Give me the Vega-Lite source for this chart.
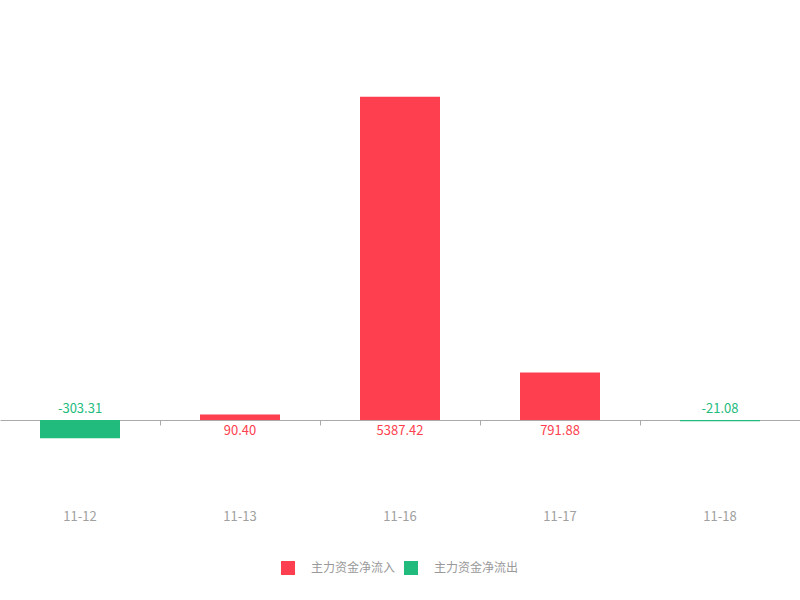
{
  "$schema": "https://vega.github.io/schema/vega-lite/v6.json",
  "width": 800,
  "height": 480,
  "padding": 0,
  "autosize": {"type": "pad"},
  "background": "white",
  "config": {
    "view": {"stroke": null},
    "font": "Noto Sans CJK SC"
  },
  "data": {
    "values": [
      {"date": "11-12", "value": -303.31, "type": "主力资金净流出", "label": "-303.31"},
      {"date": "11-13", "value": 90.40, "type": "主力资金净流入", "label": "90.40"},
      {"date": "11-16", "value": 5387.42, "type": "主力资金净流入", "label": "5387.42"},
      {"date": "11-17", "value": 791.88, "type": "主力资金净流入", "label": "791.88"},
      {"date": "11-18", "value": -21.08, "type": "主力资金净流出", "label": "-21.08"}
    ]
  },
  "layer": [
    {
      "mark": {"type": "bar"},
      "encoding": {
        "x": {
          "field": "date",
          "type": "nominal",
          "sort": null,
          "title": null,
          "scale": {"paddingInner": 0.5, "paddingOuter": 0.25},
          "axis": {
            "orient": "bottom",
            "offset": -60,
            "labels": false,
            "domainColor": "#aaaaaa",
            "tickColor": "#aaaaaa",
            "tickSize": 5,
            "tickOffset": 80
          }
        },
        "y": {
          "field": "value",
          "type": "quantitative",
          "scale": {"domain": [-1000, 7000], "nice": false},
          "axis": null
        },
        "color": {
          "field": "type",
          "type": "nominal",
          "scale": {
            "domain": ["主力资金净流入", "主力资金净流出"],
            "range": ["#fe3f4f", "#22bb7e"]
          },
          "legend": {
            "title": null,
            "orient": "none",
            "direction": "horizontal",
            "legendX": 281,
            "legendY": 561,
            "symbolType": "square",
            "symbolSize": 196,
            "symbolStrokeWidth": 0,
            "labelOffset": 16,
            "labelColor": "#999999",
            "labelFontSize": 12,
            "columnPadding": 8,
            "padding": 0
          }
        }
      }
    },
    {
      "transform": [{"filter": "datum.value >= 0"}],
      "mark": {"type": "text", "baseline": "middle", "dy": 11, "fontSize": 13},
      "encoding": {
        "x": {
          "field": "date",
          "type": "nominal",
          "sort": null,
          "title": null,
          "axis": {
            "orient": "bottom",
            "offset": -60,
            "domain": false,
            "ticks": false,
            "labelAngle": 0,
            "labelColor": "#a0a0a0",
            "labelFontSize": 13,
            "labelPadding": 90
          }
        },
        "y": {"datum": 0, "type": "quantitative"},
        "text": {"field": "label"},
        "color": {"field": "type", "type": "nominal"}
      }
    },
    {
      "transform": [{"filter": "datum.value < 0"}],
      "mark": {"type": "text", "baseline": "middle", "dy": -11, "fontSize": 13},
      "encoding": {
        "x": {"field": "date", "type": "nominal", "sort": null, "axis": null},
        "y": {"datum": 0, "type": "quantitative"},
        "text": {"field": "label"},
        "color": {"field": "type", "type": "nominal"}
      }
    }
  ],
  "resolve": {"axis": {"x": "independent"}}
}
